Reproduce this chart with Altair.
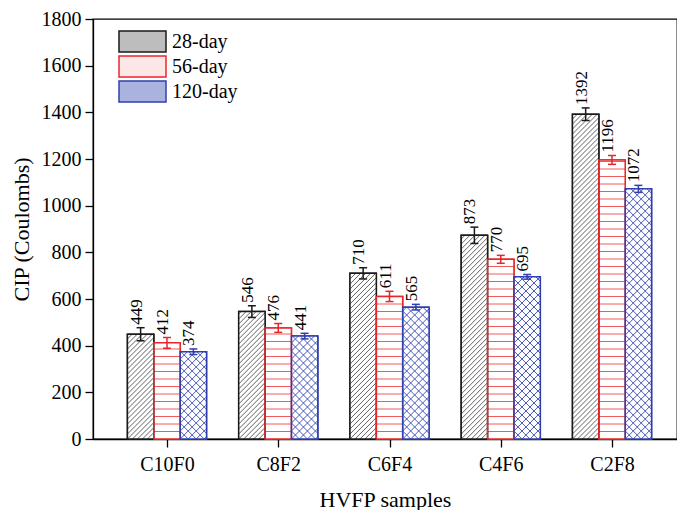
import json
import numpy as np
import pandas as pd
import altair as alt

# ---------------- data ----------------
samples = ["C10F0", "C8F2", "C6F4", "C4F6", "C2F8"]
ages = ["28-day", "56-day", "120-day"]
cip_28 = [449, 546, 710, 873, 1392]
cip_56 = [412, 476, 611, 770, 1196]
cip_120 = [374, 441, 565, 695, 1072]
err_28 = [28, 25, 24, 35, 27]
err_56 = [23, 19, 22, 17, 19]
err_120 = [12, 12, 12, 10, 15]
y_ticks = [0, 200, 400, 600, 800, 1000, 1200, 1400, 1600, 1800]

# ---------------- style / layout ----------------
FONT = "Liberation Serif"
W, H = 584, 420
X_MIN, X_MAX = -0.665, 4.584
Y_MAX = 1800
BAR_W = 0.237                     # one bar width in group units
stroke_colors = ["#1a1a1a", "#e8262a", "#2f3fae"]
legend_fills = ["#bdbdbd", "#fde6e6", "#aab3de"]
hatch_kind = {"28-day": "up", "56-day": "horizontal", "120-day": "cross"}
hatch_period = {"28-day": 5.0, "56-day": 7.5, "120-day": 8.0}
hatch_color = {"28-day": "#3a3a3a", "56-day": "#f25a5a", "120-day": "#3346b5"}
hatch_width = {"28-day": 0.8, "56-day": 1.0, "120-day": 0.9}

px_x = W / (X_MAX - X_MIN)
px_y = H / Y_MAX
CAP = 8 / px_x

vals = [cip_28, cip_56, cip_120]
errs = [err_28, err_56, err_120]
rows = []
for i, s in enumerate(samples):
    for j, a in enumerate(ages):
        c = i + (j - 1) * BAR_W
        v = vals[j][i]
        e = errs[j][i]
        rows.append(dict(sample=s, age=a, center=c, x0=c - BAR_W / 2, x1=c + BAR_W / 2,
                         value=v, lo=v - e, hi=v + e, cap0=c - CAP / 2, cap1=c + CAP / 2))
df = pd.DataFrame(rows)


def segments(w, h, kind, period):
    segs = []
    if kind == "horizontal":
        for v in np.arange(period, h, period):
            segs.append((0.0, v, w, v))
    if kind in ("up", "cross"):
        for k in range(int(np.floor(-w / period)), int(np.ceil(h / period)) + 1):
            c = k * period
            ua, ub = max(0.0, -c), min(w, h - c)
            if ub - ua > 0.3:
                segs.append((ua, ua + c, ub, ub + c))
    if kind in ("down", "cross"):
        for k in range(0, int(np.ceil((h + w) / period)) + 1):
            c = k * period
            ua, ub = max(0.0, c - h), min(w, c)
            if ub - ua > 0.3:
                segs.append((ua, c - ua, ub, c - ub))
    return segs


hatch_frames = {}
for a in ages:
    hr = []
    for _, r in df[df.age == a].iterrows():
        for (u0, v0, u1, v1) in segments(BAR_W * px_x, r.value * px_y, hatch_kind[a], hatch_period[a]):
            hr.append(dict(hx=r.x0 + u0 / px_x, hy=v0 / px_y, hx2=r.x0 + u1 / px_x, hy2=v1 / px_y))
    hatch_frames[a] = pd.DataFrame(hr)

label_expr = "%s[round(datum.value)]" % json.dumps(samples)
x_scale = alt.Scale(domain=[X_MIN, X_MAX], nice=False, zero=False)
y_scale = alt.Scale(domain=[0, Y_MAX], nice=False)
x_axis = alt.Axis(values=list(range(len(samples))), labelExpr=label_expr, grid=False,
                  title="HVFP samples", tickSize=8, labelPadding=7, titlePadding=15)
y_axis = alt.Axis(values=y_ticks, grid=False, title="CIP (Coulombs)", tickSize=8,
                  labelPadding=4, titlePadding=8, format="d")


def X(field):
    return alt.X(field, type="quantitative", scale=x_scale, axis=x_axis)


def Y(field):
    return alt.Y(field, type="quantitative", scale=y_scale, axis=y_axis)


zero = alt.datum(0)
stroke_scale = alt.Scale(domain=ages, range=stroke_colors)
legend = alt.Legend(orient="none", legendX=25, legendY=10, title=None,
                    symbolType="M-1,-0.447H1V0.447H-1Z", symbolSize=2209,
                    symbolStrokeWidth=1.5, labelFont=FONT, labelFontSize=20,
                    labelColor="black", clipHeight=25, rowPadding=0, padding=0,
                    labelOffset=5)

base = alt.Chart(df)

legend_bars = base.mark_bar(strokeWidth=1.5).encode(
    x=X("x0"), x2="x1", y=Y("value"), y2=zero,
    fill=alt.Fill("age:N", scale=alt.Scale(domain=ages, range=legend_fills), legend=legend),
    stroke=alt.Stroke("age:N", scale=stroke_scale, legend=legend),
)
white_bars = base.mark_bar(fill="white", strokeWidth=0).encode(
    x=X("x0"), x2="x1", y=Y("value"), y2=zero)

hatch_layers = []
for a in ages:
    hatch_layers.append(
        alt.Chart(hatch_frames[a]).mark_rule(stroke=hatch_color[a], strokeWidth=hatch_width[a]).encode(
            x=X("hx"), x2="hx2", y=Y("hy"), y2="hy2")
    )

outline = base.mark_bar(fillOpacity=0, strokeWidth=1.5).encode(
    x=X("x0"), x2="x1", y=Y("value"), y2=zero,
    stroke=alt.Stroke("age:N", scale=stroke_scale, legend=None),
)
err_rule = base.mark_rule(strokeWidth=1.5).encode(
    x=X("center"), y=Y("lo"), y2="hi",
    stroke=alt.Stroke("age:N", scale=stroke_scale, legend=None),
)
cap_hi = base.mark_rule(strokeWidth=1.5).encode(
    x=X("cap0"), x2="cap1", y=Y("hi"),
    stroke=alt.Stroke("age:N", scale=stroke_scale, legend=None),
)
cap_lo = base.mark_rule(strokeWidth=1.5).encode(
    x=X("cap0"), x2="cap1", y=Y("lo"),
    stroke=alt.Stroke("age:N", scale=stroke_scale, legend=None),
)
labels = base.mark_text(angle=270, align="left", baseline="middle", dy=-4, dx=3,
                        font=FONT, fontSize=17, color="black").encode(
    x=X("center"), y=Y("hi"), text="value:Q")

chart = alt.layer(legend_bars, white_bars, *hatch_layers, outline, err_rule, cap_hi, cap_lo, labels).properties(
    width=W, height=H,
    padding={"left": 85, "top": 11, "right": 0, "bottom": 71},
    autosize=alt.AutoSizeParams(type="none"),
    background="white",
).configure_view(
    stroke="black", strokeWidth=1.3
).configure_axis(
    labelFont=FONT, labelFontSize=20, labelColor="black",
    titleFont=FONT, titleFontSize=22, titleFontWeight="normal", titleColor="black",
    domainColor="black", domainWidth=1.3, tickColor="black", tickWidth=1.3,
)

chart.save("out.html", embed_options={"renderer": "svg", "actions": False})
